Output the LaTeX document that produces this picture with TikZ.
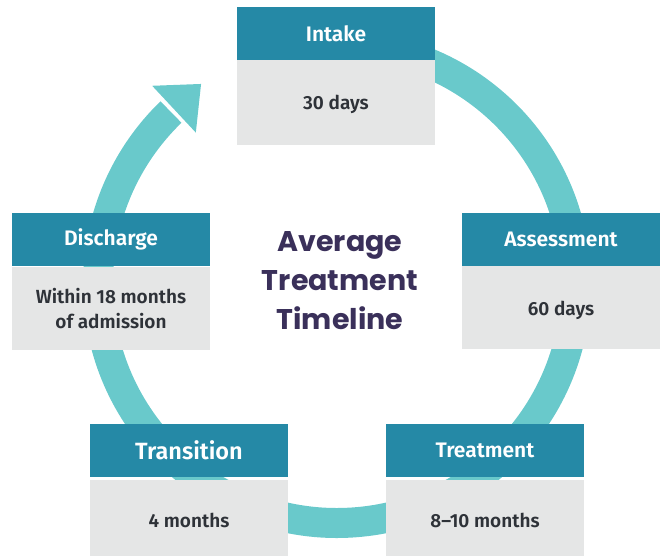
\documentclass[tikz,border=0pt]{standalone}
\usepackage{fontspec}
\setmainfont{Fira Sans}[BoldFont={Fira Sans SemiBold}]
\newfontfamily\titlefont{Poppins}
\usetikzlibrary{calc}
\definecolor{hdrcol}{RGB}{37,137,166}
\definecolor{bodycol}{RGB}{229,230,230}
\definecolor{ringcol}{RGB}{105,201,203}
\definecolor{titlecol}{RGB}{58,48,90}
\definecolor{txtcol}{RGB}{46,50,56}
\begin{document}
\begin{tikzpicture}[x=1pt,y=1pt,
  hdr/.style={fill=hdrcol, text=white, minimum width=198pt, minimum height=53pt, inner sep=0pt, font=\bfseries\fontsize{21}{24}\selectfont},
  bodybox/.style={fill=bodycol, text=txtcol, minimum width=198pt, inner sep=0pt, align=center, font=\bfseries\fontsize{19}{25}\selectfont},
  ringline/.style={draw=ringcol, line width=30pt},
  titletext/.style={text=titlecol, align=center, font=\titlefont\bfseries\fontsize{28.5}{39}\selectfont}]
\useasboundingbox (0,0) rectangle (667,556);
\coordinate (c) at (337,272);
% ring
\draw[ringline] (c) ++(95:239) arc[start angle=95, end angle=-226, radius=239];
\begin{scope}[shift={($(c)+(133:239)$)}, rotate=43]
  \coordinate (hb1) at (0,32);
  \coordinate (ht) at (37,0);
  \coordinate (hb2) at (0,-32);
  \fill[ringcol] (hb1) -- (ht) -- (hb2) -- cycle;
\end{scope}
% Intake
\node[hdr] (intakeH) at (336,522) {Intake};
\node[bodybox, minimum height=85pt] (intakeB) at (336,453.5) {\raisebox{-2pt}[\height][\depth]{30 days}};
% Assessment
\node[hdr] (assessH) at (561,316.5) {Assessment};
\node[bodybox, minimum height=83pt] (assessB) at (561,248.5) {\raisebox{-3pt}[\height][\depth]{60 days}};
% Discharge
\node[hdr] (dischH) at (111,316.5) {Discharge};
\node[bodybox, minimum height=83pt] (dischB) at (111,247) {Within 18 months\\of admission};
% Treatment
\node[hdr] (treatH) at (485,105.5) {Treatment};
\node[bodybox, minimum height=79pt] (treatB) at (485,36) {8–10 months};
% Transition
\node[hdr, font=\bfseries\fontsize{23.5}{26}\selectfont] (transH) at (189,105.5) {Transition};
\node[bodybox, minimum height=79pt] (transB) at (189,36) {4 months};
% Title
\node[titletext] (title) at (340,275) {Average\\Treatment\\Timeline};
\end{tikzpicture}
\end{document}
